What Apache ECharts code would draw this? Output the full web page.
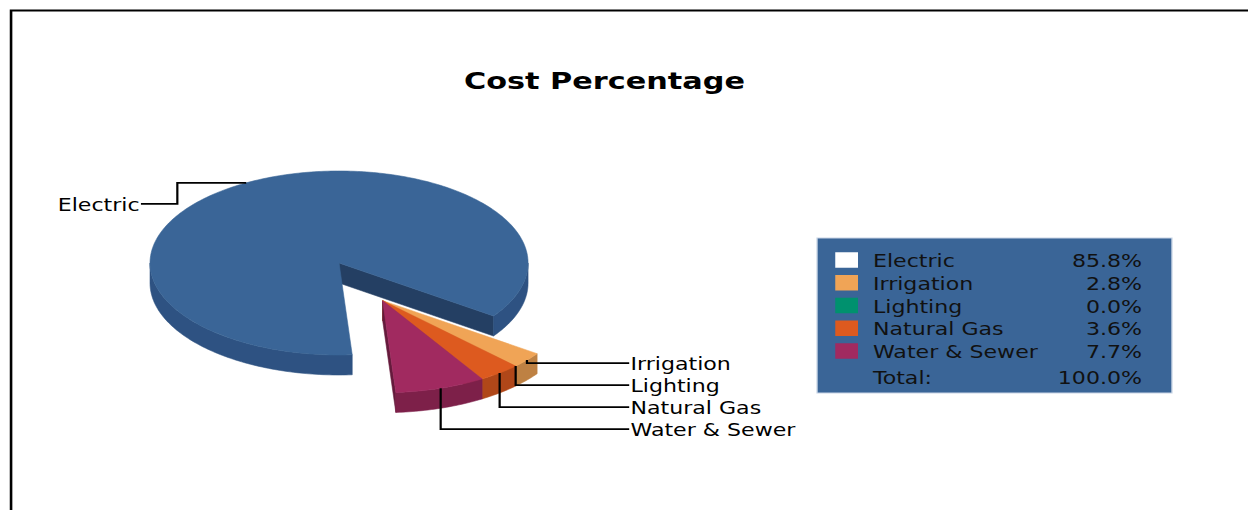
<!DOCTYPE html>
<html>
<head>
<meta charset="utf-8">
<title>Cost Percentage</title>
<script src="https://cdn.jsdelivr.net/npm/echarts@6.0.0/dist/echarts.min.js"></script>
<style>
  html, body { margin: 0; padding: 0; background: #fff; overflow: hidden; }
  /* The chart is laid out on a 960 x 510 board and stretched to fill the 1248 px frame. */
  #chart { width: 960px; height: 510px; transform: scaleX(1.3); transform-origin: 0 0; }
</style>
</head>
<body>
<div id="chart"></div>
<script>
// ---- data ----
const categories = ['Electric', 'Irrigation', 'Lighting', 'Natural Gas', 'Water & Sewer'];
const shares = [85.8, 2.8, 0.0, 3.6, 7.7];          // percent of total cost
const totalShare = 100.0;                            // the shares make up the whole
const totalLabel = 'Total:';

// ---- colours ----
const topColors  = ['#3A6597', '#F0A456', '#00916E', '#DD5A1F', '#A12A60'];
const wallColors = ['#2E5282', '#BE8143', '#00735A', '#B04719', '#7D2049'];
const cutColors  = ['#243F63', '#A86E35', '#005F49', '#93401A', '#651A3C'];
const swatchColors = ['#FFFFFF', '#F0A456', '#00916E', '#DD5A1F', '#A12A60'];

// ---- pie layout (board pixels) ----
const CX = 260.8, CY = 263, RX = 145.4, RY = 92, DEPTH = 20;
const START_ANGLE = 86;     // degrees, clockwise from 3 o'clock
const EXPLODE = 0.47;       // pull-out of the small slices, as a fraction of the radius
const FONT = '"DejaVu Sans", Verdana, sans-serif';
const LABEL_FONT = '17px ' + FONT;
const TEXT_NUDGE = 1.5;     // optical centring of text on its row

const sum = shares.reduce((a, b) => a + b, 0);
const startAngles = [], endAngles = [];
let acc = 0;
shares.forEach(v => {
  startAngles.push(START_ANGLE + 360 * acc / sum);
  acc += v;
  endAngles.push(START_ANGLE + 360 * acc / sum);
});
const maxShare = Math.max(...shares);
const exploded = shares.map(v => v < maxShare);
// the pulled-out slices move together along the middle of their run
const expIdx = exploded.map((e, i) => e ? i : -1).filter(i => i >= 0);
const expMid = (startAngles[expIdx[0]] + endAngles[expIdx[expIdx.length - 1]]) / 2 * Math.PI / 180;
const EXP_DX = RX * EXPLODE * Math.cos(expMid);
const EXP_DY = RY * EXPLODE * Math.sin(expMid);

function pt(a, k, ox, oy, dz) {
  const r = a * Math.PI / 180;
  return [CX + ox + RX * k * Math.cos(r), CY + oy + RY * k * Math.sin(r) + (dz || 0)];
}
function arc(a0, a1, ox, oy, dz) {
  const n = Math.max(2, Math.ceil(Math.abs(a1 - a0)));
  const out = [];
  for (let j = 0; j <= n; j++) out.push(pt(a0 + (a1 - a0) * j / n, 1, ox, oy, dz));
  return out;
}

// label placement: right-hand labels stack downwards, never closer than LABEL_STEP
const LABEL_STEP = 22, RIGHT_LABEL_X = 485;
const labelPlan = [];
(function planLabels() {
  let prevY = -Infinity;
  shares.forEach((v, i) => {
    const ox = exploded[i] ? EXP_DX : 0, oy = exploded[i] ? EXP_DY : 0;
    const mid = (startAngles[i] + endAngles[i]) / 2;
    const anchor = pt(mid, 1, ox, oy);
    if (anchor[0] < CX) {
      const y = anchor[1] + 21;
      labelPlan.push({
        side: 'left',
        points: [anchor, [anchor[0] - 53, anchor[1]], [anchor[0] - 53, y], [anchor[0] - 81, y]],
        tx: anchor[0] - 82, ty: y
      });
    } else {
      const y = Math.max(anchor[1] + 3, prevY + LABEL_STEP);
      prevY = y;
      labelPlan.push({
        side: 'right',
        points: [anchor, [anchor[0], y], [RIGHT_LABEL_X - 1, y]],
        tx: RIGHT_LABEL_X, ty: y
      });
    }
  });
})();

function renderSlice(params) {
  const i = params.dataIndex;
  const a0 = startAngles[i], a1 = endAngles[i];
  const ox = exploded[i] ? EXP_DX : 0, oy = exploded[i] ? EXP_DY : 0;
  const zb = exploded[i] ? 10 : 0;
  const children = [];
  if (a1 - a0 > 0.01) {
    const c = pt(0, 0, ox, oy), cd = pt(0, 0, ox, oy, DEPTH);
    const cut = (a) => [c, pt(a, 1, ox, oy), pt(a, 1, ox, oy, DEPTH), cd];
    // cut faces that turn towards the viewer
    if (Math.cos(a1 * Math.PI / 180) > 0) {
      children.push({ type: 'polygon', z2: zb + 1, shape: { points: cut(a1) },
        style: { fill: cutColors[i], stroke: cutColors[i], lineWidth: 0.5 } });
    }
    if (Math.cos(a0 * Math.PI / 180) < 0) {
      children.push({ type: 'polygon', z2: zb + 1, shape: { points: cut(a0) },
        style: { fill: cutColors[i], stroke: cutColors[i], lineWidth: 0.5 } });
    }
    // front part of the outer wall
    for (let k = 0; k < 3; k++) {
      const lo = Math.max(a0, 360 * k), hi = Math.min(a1, 360 * k + 180);
      if (hi > lo) {
        const pts = arc(lo, hi, ox, oy).concat(arc(lo, hi, ox, oy, DEPTH).reverse());
        children.push({ type: 'polygon', z2: zb + 2, shape: { points: pts },
          style: { fill: wallColors[i], stroke: wallColors[i], lineWidth: 0.5 } });
      }
    }
    // top face
    children.push({ type: 'polygon', z2: zb + 3, shape: { points: [c].concat(arc(a0, a1, ox, oy)) },
      style: { fill: topColors[i], stroke: topColors[i], lineWidth: 0.5 } });
  }
  // leader line and label
  const lp = labelPlan[i];
  children.push({ type: 'polyline', z2: 30, shape: { points: lp.points },
    style: { stroke: '#000', lineWidth: 1.7, fill: null } });
  children.push({ type: 'text', z2: 31, style: {
    text: categories[i], x: lp.tx, y: lp.ty + TEXT_NUDGE, fill: '#000', font: LABEL_FONT,
    align: lp.side === 'left' ? 'right' : 'left', verticalAlign: 'middle' } });
  return { type: 'group', children };
}

// ---- legend box ----
const LEG = { x: 628.5, y: 238, w: 273, h: 155, row0: 260, step: 22.75, totalGap: 3,
              swX: 642.5, swW: 17.5, swH: 15.5, nameX: 671.5, valX: 878.5 };
const legendEls = [{
  type: 'rect', shape: { x: LEG.x, y: LEG.y, width: LEG.w, height: LEG.h },
  style: { fill: '#3A6597', stroke: '#C7D4E5', lineWidth: 1 }
}];
categories.forEach((name, i) => {
  const y = LEG.row0 + i * LEG.step;
  legendEls.push({ type: 'rect', shape: { x: LEG.swX, y: y - LEG.swH / 2, width: LEG.swW, height: LEG.swH },
    style: { fill: swatchColors[i] } });
  legendEls.push({ type: 'text', style: { text: name, x: LEG.nameX, y: y + TEXT_NUDGE, fill: '#111',
    font: LABEL_FONT, verticalAlign: 'middle' } });
  legendEls.push({ type: 'text', style: { text: shares[i].toFixed(1) + '%', x: LEG.valX, y: y + TEXT_NUDGE,
    fill: '#111', font: LABEL_FONT, align: 'right', verticalAlign: 'middle' } });
});
const totalY = LEG.row0 + categories.length * LEG.step + LEG.totalGap + TEXT_NUDGE;
legendEls.push({ type: 'text', style: { text: totalLabel, x: LEG.nameX, y: totalY, fill: '#111',
  font: LABEL_FONT, verticalAlign: 'middle' } });
legendEls.push({ type: 'text', style: { text: totalShare.toFixed(1) + '%', x: LEG.valX, y: totalY, fill: '#111',
  font: LABEL_FONT, align: 'right', verticalAlign: 'middle' } });

const chart = echarts.init(document.getElementById('chart'), null, { renderer: 'svg' });
chart.setOption({
  backgroundColor: '#fff',
  animation: false,
  title: {
    text: 'Cost Percentage', left: 465, top: 69.5, textAlign: 'center', padding: 0,
    textStyle: { fontFamily: FONT, fontSize: 23.3, fontWeight: 'bold', color: '#000' }
  },
  graphic: [
    { type: 'polyline', shape: { points: [[8.5, 510], [8.5, 10.5], [960, 10.5]] },
      style: { stroke: '#000', lineWidth: 2, fill: null } },
    { type: 'group', children: legendEls }
  ],
  series: [{
    type: 'custom',
    coordinateSystem: 'none',
    silent: true,
    data: categories.map((name, i) => ({ name, value: shares[i] })),
    renderItem: renderSlice
  }]
});
</script>
</body>
</html>
